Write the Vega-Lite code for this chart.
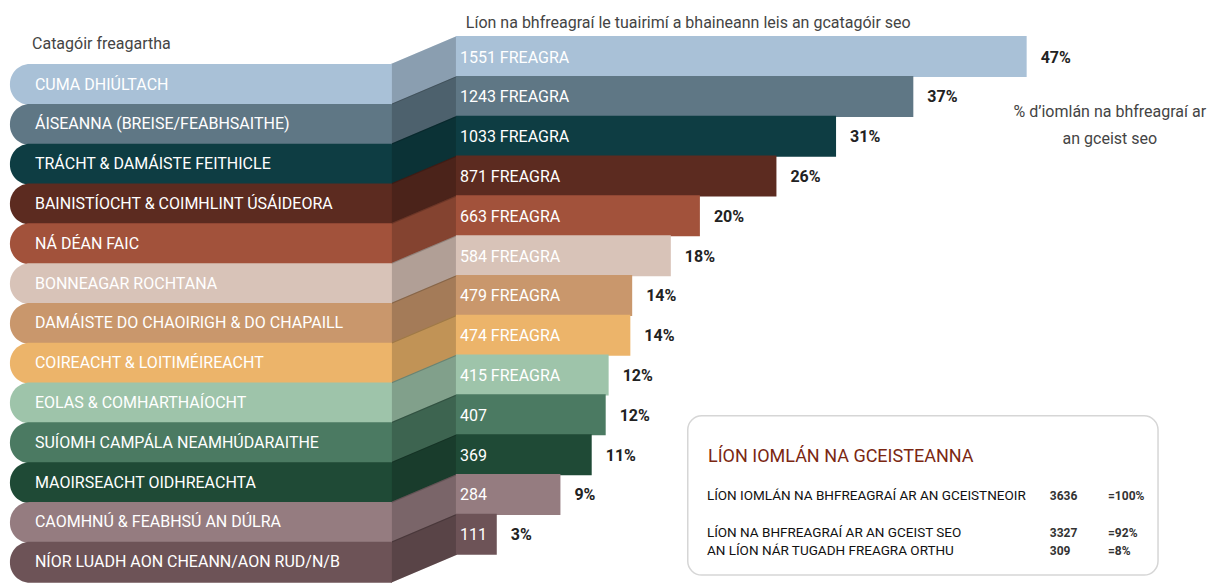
{
  "$schema": "https://vega.github.io/schema/vega-lite/v6.json",
  "width": 1225,
  "height": 585,
  "autosize": "none",
  "padding": 0,
  "background": "white",
  "config": {"view": {"stroke": null}, "font": "Roboto"},
  "datasets": {
    "rows": [
      {"cat": "CUMA DHIÚLTACH", "count": 1551, "pct": 0.47, "label": "1551 FREAGRA"},
      {"cat": "ÁISEANNA (BREISE/FEABHSAITHE)", "count": 1243, "pct": 0.37, "label": "1243 FREAGRA"},
      {"cat": "TRÁCHT & DAMÁISTE FEITHICLE", "count": 1033, "pct": 0.31, "label": "1033 FREAGRA"},
      {"cat": "BAINISTÍOCHT & COIMHLINT ÚSÁIDEORA", "count": 871, "pct": 0.26, "label": "871 FREAGRA"},
      {"cat": "NÁ DÉAN FAIC", "count": 663, "pct": 0.20, "label": "663 FREAGRA"},
      {"cat": "BONNEAGAR ROCHTANA", "count": 584, "pct": 0.18, "label": "584 FREAGRA"},
      {"cat": "DAMÁISTE DO CHAOIRIGH & DO CHAPAILL", "count": 479, "pct": 0.14, "label": "479 FREAGRA"},
      {"cat": "COIREACHT & LOITIMÉIREACHT", "count": 474, "pct": 0.14, "label": "474 FREAGRA"},
      {"cat": "EOLAS & COMHARTHAÍOCHT", "count": 415, "pct": 0.12, "label": "415 FREAGRA"},
      {"cat": "SUÍOMH CAMPÁLA NEAMHÚDARAITHE", "count": 407, "pct": 0.12, "label": "407"},
      {"cat": "MAOIRSEACHT OIDHREACHTA", "count": 369, "pct": 0.11, "label": "369"},
      {"cat": "CAOMHNÚ & FEABHSÚ AN DÚLRA", "count": 284, "pct": 0.09, "label": "284"},
      {"cat": "NÍOR LUADH AON CHEANN/AON RUD/N/B", "count": 111, "pct": 0.03, "label": "111"}
    ]
  },
  "layer": [
    {
      "data": {"name": "rows"},
      "transform": [{"window": [{"op": "row_number", "as": "idx"}]}],
      "mark": {"type": "point", "shape": "M -33 7.5 L 33 -20.5 L 33 20.5 L -33 48.5 Z", "size": 4, "filled": true, "opacity": 1, "strokeWidth": 0},
      "encoding": {
        "x": {"datum": -87, "type": "quantitative", "scale": {"domain": [-1239, 2090], "nice": false, "zero": false}, "axis": null},
        "y": {"field": "idx", "type": "quantitative", "scale": {"domain": [-0.296, 14.148], "reverse": true, "nice": false, "zero": false}, "axis": null},
        "color": {"field": "cat", "type": "nominal", "legend": null,
          "scale": {
            "domain": ["CUMA DHIÚLTACH", "ÁISEANNA (BREISE/FEABHSAITHE)", "TRÁCHT & DAMÁISTE FEITHICLE", "BAINISTÍOCHT & COIMHLINT ÚSÁIDEORA", "NÁ DÉAN FAIC", "BONNEAGAR ROCHTANA", "DAMÁISTE DO CHAOIRIGH & DO CHAPAILL", "COIREACHT & LOITIMÉIREACHT", "EOLAS & COMHARTHAÍOCHT", "SUÍOMH CAMPÁLA NEAMHÚDARAITHE", "MAOIRSEACHT OIDHREACHTA", "CAOMHNÚ & FEABHSÚ AN DÚLRA", "NÍOR LUADH AON CHEANN/AON RUD/N/B"],
            "range": ["#a9c1d7", "#5f7785", "#0e3d43", "#5c2b20", "#a2523b", "#d8c3b8", "#c9976c", "#ecb46a", "#9ec4aa", "#4b7a62", "#1f4a36", "#957c80", "#6d5357"]
          }
        }
      }
    },
    {
      "data": {"name": "rows"},
      "transform": [{"window": [{"op": "row_number", "as": "idx"}]}],
      "mark": {"type": "point", "shape": "M -33 7.5 L 33 -20.5 L 33 20.5 L -33 48.5 Z", "size": 4, "filled": true, "opacity": 0.18, "color": "black", "strokeWidth": 0},
      "encoding": {
        "x": {"datum": -87, "type": "quantitative"},
        "y": {"field": "idx", "type": "quantitative"}
      }
    },
    {
      "data": {"name": "rows"},
      "transform": [{"window": [{"op": "row_number", "as": "idx"}]}],
      "mark": {"type": "bar", "orient": "horizontal", "size": 41, "yOffset": 28, "cornerRadiusTopLeft": 20, "cornerRadiusBottomLeft": 20},
      "encoding": {
        "x": {"datum": -1212, "type": "quantitative"},
        "x2": {"datum": -174},
        "y": {"field": "idx", "type": "quantitative"},
        "color": {"field": "cat", "type": "nominal"}
      }
    },
    {
      "data": {"name": "rows"},
      "transform": [{"window": [{"op": "row_number", "as": "idx"}]}],
      "mark": {"type": "text", "align": "left", "baseline": "middle", "dy": 28, "color": "white", "fontSize": 16},
      "encoding": {
        "x": {"datum": -1144, "type": "quantitative"},
        "y": {"field": "idx", "type": "quantitative"},
        "text": {"field": "cat"}
      }
    },
    {
      "data": {"name": "rows"},
      "transform": [{"window": [{"op": "row_number", "as": "idx"}]}],
      "mark": {"type": "bar", "orient": "horizontal", "size": 41},
      "encoding": {
        "x": {"field": "count", "type": "quantitative"},
        "x2": {"datum": 0},
        "y": {"field": "idx", "type": "quantitative"},
        "color": {"field": "cat", "type": "nominal"}
      }
    },
    {
      "data": {"name": "rows"},
      "transform": [{"window": [{"op": "row_number", "as": "idx"}]}],
      "mark": {"type": "text", "align": "left", "baseline": "middle", "dx": 4, "dy": 1, "color": "white", "fontSize": 16},
      "encoding": {
        "x": {"datum": 0, "type": "quantitative"},
        "y": {"field": "idx", "type": "quantitative"},
        "text": {"field": "label"}
      }
    },
    {
      "data": {"name": "rows"},
      "transform": [{"window": [{"op": "row_number", "as": "idx"}]}],
      "mark": {"type": "text", "align": "left", "baseline": "middle", "dx": 14, "dy": 1, "color": "#222222", "fontSize": 16, "fontWeight": "bold"},
      "encoding": {
        "x": {"field": "count", "type": "quantitative"},
        "y": {"field": "idx", "type": "quantitative"},
        "text": {"field": "pct", "format": ".0%"}
      }
    },
    {
      "data": {"values": [{"t": "Catagóir freagartha"}]},
      "mark": {"type": "text", "align": "left", "baseline": "middle", "color": "#444444", "fontSize": 16},
      "encoding": {
        "x": {"datum": -1152, "type": "quantitative"},
        "y": {"datum": 0.691, "type": "quantitative"},
        "text": {"field": "t"}
      }
    },
    {
      "data": {"values": [{"t": "Líon na bhfreagraí le tuairimí a bhaineann leis an gcatagóir seo"}]},
      "mark": {"type": "text", "align": "left", "baseline": "middle", "color": "#444444", "fontSize": 16},
      "encoding": {
        "x": {"datum": 27, "type": "quantitative"},
        "y": {"datum": 0.148, "type": "quantitative"},
        "text": {"field": "t"}
      }
    },
    {
      "data": {"values": [{"t": ["% d’iomlán na bhfreagraí ar", "an gceist seo"]}]},
      "mark": {"type": "text", "align": "center", "baseline": "middle", "color": "#444444", "fontSize": 16, "lineHeight": 27},
      "encoding": {
        "x": {"datum": 1777, "type": "quantitative"},
        "y": {"datum": 2.395, "type": "quantitative"},
        "text": {"field": "t"}
      }
    },
    {
      "data": {"values": [{"box": "totals"}]},
      "mark": {"type": "rect", "cornerRadius": 14, "fill": "white", "stroke": "#d6d6d6", "strokeWidth": 1.5},
      "encoding": {
        "x": {"datum": 630, "type": "quantitative"},
        "x2": {"datum": 1908},
        "y": {"datum": 10.025, "type": "quantitative"},
        "y2": {"datum": 14.025}
      }
    },
    {
      "data": {"values": [{"t": "LÍON IOMLÁN NA GCEISTEANNA"}]},
      "mark": {"type": "text", "align": "left", "baseline": "middle", "color": "#7b2712", "fontSize": 18},
      "encoding": {
        "x": {"datum": 685, "type": "quantitative"},
        "y": {"datum": 11.05, "type": "quantitative"},
        "text": {"field": "t"}
      }
    },
    {
      "data": {"values": [{"t": "LÍON IOMLÁN NA BHFREAGRAÍ AR AN GCEISTNEOIR", "n": "3636", "s": "=100%"}]},
      "layer": [
        {
          "mark": {"type": "text", "align": "left", "baseline": "middle", "color": "#111111", "fontSize": 13.5},
          "encoding": {"x": {"datum": 682, "type": "quantitative"}, "y": {"datum": 12.03, "type": "quantitative"}, "text": {"field": "t"}}
        },
        {
          "mark": {"type": "text", "align": "left", "baseline": "middle", "color": "#333333", "fontSize": 12, "fontWeight": "bold"},
          "encoding": {"x": {"datum": 1614, "type": "quantitative"}, "y": {"datum": 12.03, "type": "quantitative"}, "text": {"field": "n"}}
        },
        {
          "mark": {"type": "text", "align": "left", "baseline": "middle", "color": "#333333", "fontSize": 12, "fontWeight": "bold"},
          "encoding": {"x": {"datum": 1772, "type": "quantitative"}, "y": {"datum": 12.03, "type": "quantitative"}, "text": {"field": "s"}}
        }
      ]
    },
    {
      "data": {"values": [{"t": ["LÍON NA BHFREAGRAÍ AR AN GCEIST SEO", "AN LÍON NÁR TUGADH FREAGRA ORTHU"], "n": ["3327", "309"], "s": ["=92%", "=8%"]}]},
      "layer": [
        {
          "mark": {"type": "text", "align": "left", "baseline": "middle", "color": "#111111", "fontSize": 13.5, "lineHeight": 18},
          "encoding": {"x": {"datum": 682, "type": "quantitative"}, "y": {"datum": 12.97, "type": "quantitative"}, "text": {"field": "t"}}
        },
        {
          "mark": {"type": "text", "align": "left", "baseline": "middle", "color": "#333333", "fontSize": 12, "fontWeight": "bold", "lineHeight": 18},
          "encoding": {"x": {"datum": 1614, "type": "quantitative"}, "y": {"datum": 12.97, "type": "quantitative"}, "text": {"field": "n"}}
        },
        {
          "mark": {"type": "text", "align": "left", "baseline": "middle", "color": "#333333", "fontSize": 12, "fontWeight": "bold", "lineHeight": 18},
          "encoding": {"x": {"datum": 1772, "type": "quantitative"}, "y": {"datum": 12.97, "type": "quantitative"}, "text": {"field": "s"}}
        }
      ]
    }
  ]
}
